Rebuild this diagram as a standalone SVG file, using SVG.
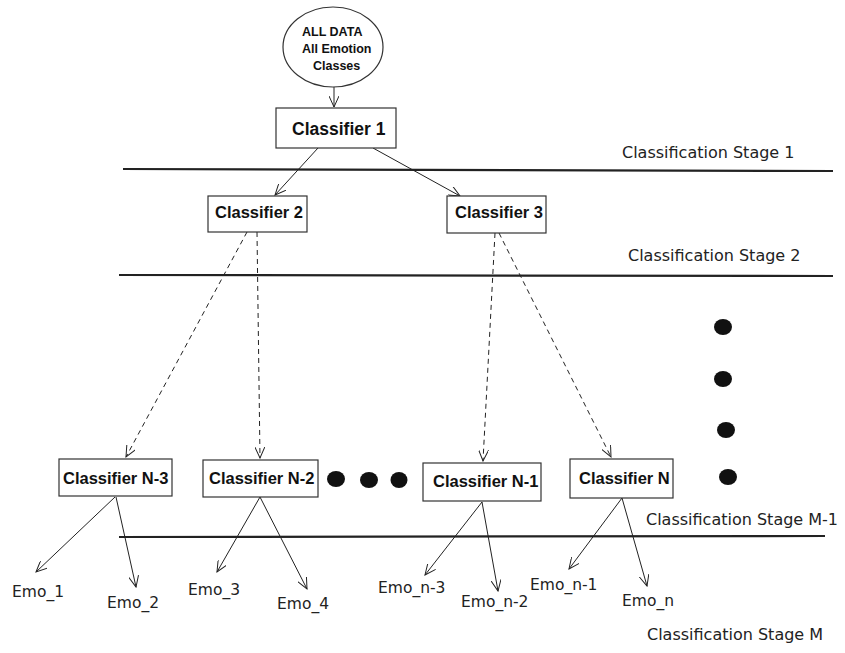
<svg xmlns="http://www.w3.org/2000/svg" width="845" height="653" viewBox="0 0 845 653">
<style>
.box{fill:#fff;stroke:#333;stroke-width:1.2}
.cl{font-family:"Liberation Sans",Arial,sans-serif;font-weight:bold;font-size:16.5px;fill:#111}
.st{font-family:"DejaVu Sans",sans-serif;font-size:16px;fill:#222}
.emo{font-family:"DejaVu Sans",sans-serif;font-size:15.5px;fill:#222}
.sep{stroke:#222;stroke-width:2.2}
.ar{stroke:#222;stroke-width:1;fill:none;marker-end:url(#ah)}
.da{stroke:#222;stroke-width:1;fill:none;stroke-dasharray:5,4;marker-end:url(#ah)}
.dot{fill:#111}
</style>
<defs>
<marker id="ah" viewBox="0 0 12 10" refX="11" refY="5" markerWidth="12" markerHeight="10" markerUnits="userSpaceOnUse" orient="auto">
<path d="M0,0 L11,5 L0,10" fill="none" stroke="#222" stroke-width="1"/>
</marker>
</defs>
<rect width="845" height="653" fill="#fff"/>
<g id="separators">
<line class="sep" x1="123" y1="169" x2="833" y2="171"/>
<line class="sep" x1="119" y1="275" x2="833" y2="276"/>
<line class="sep" x1="119" y1="537" x2="825" y2="536"/>
</g>
<g id="stage-labels">
<text class="st" x="622" y="158">Classification Stage 1</text>
<text class="st" x="628" y="261">Classification Stage 2</text>
<text class="st" x="646" y="525">Classification Stage M-1</text>
<text class="st" x="647" y="640">Classification Stage M</text>
</g>
<g id="connectors">
<line class="ar" x1="334" y1="87" x2="334" y2="107"/>
<line class="ar" x1="318" y1="148" x2="275" y2="195"/>
<line class="ar" x1="373" y1="148" x2="460" y2="196"/>
<line class="da" x1="247" y1="232" x2="126" y2="457"/>
<line class="da" x1="257" y1="232" x2="260" y2="458"/>
<line class="da" x1="495" y1="233" x2="483" y2="461"/>
<line class="da" x1="499" y1="233" x2="611" y2="457"/>
<line class="ar" x1="115" y1="497" x2="36" y2="572"/>
<line class="ar" x1="116" y1="497" x2="136" y2="587"/>
<line class="ar" x1="260" y1="497" x2="217" y2="572"/>
<line class="ar" x1="260" y1="497" x2="307" y2="589"/>
<line class="ar" x1="482" y1="502" x2="425" y2="575"/>
<line class="ar" x1="482" y1="502" x2="498" y2="591"/>
<line class="ar" x1="622" y1="498" x2="569" y2="569"/>
<line class="ar" x1="622" y1="498" x2="647" y2="586"/>
</g>
<g id="all-data">
<ellipse cx="333" cy="47" rx="50" ry="40" fill="#fff" stroke="#333" stroke-width="1.2"/>
<text font-family="Liberation Sans,Arial,sans-serif" font-weight="bold" font-size="12.5" fill="#111" x="302" y="36">ALL DATA</text>
<text font-family="Liberation Sans,Arial,sans-serif" font-weight="bold" font-size="12.5" fill="#111" x="302" y="53">All Emotion</text>
<text font-family="Liberation Sans,Arial,sans-serif" font-weight="bold" font-size="12.5" fill="#111" x="313" y="70">Classes</text>
</g>
<g id="classifier-1">
<rect class="box" x="276" y="108" width="120" height="40"/>
<text class="cl" x="292" y="135" style="font-size:17.5px">Classifier 1</text>
</g>
<g id="classifier-2">
<rect class="box" x="208" y="196" width="99" height="36"/>
<text class="cl" x="215" y="218">Classifier 2</text>
</g>
<g id="classifier-3">
<rect class="box" x="447" y="196" width="99" height="37"/>
<text class="cl" x="455" y="218">Classifier 3</text>
</g>
<g id="classifier-n-3">
<rect class="box" x="59" y="459" width="113" height="37"/>
<text class="cl" x="63" y="484">Classifier N-3</text>
</g>
<g id="classifier-n-2">
<rect class="box" x="203" y="460" width="115" height="37"/>
<text class="cl" x="209" y="484">Classifier N-2</text>
</g>
<g id="classifier-n-1">
<rect class="box" x="423" y="463" width="118" height="38"/>
<text class="cl" x="433" y="487">Classifier N-1</text>
</g>
<g id="classifier-n">
<rect class="box" x="570" y="459" width="103" height="39"/>
<text class="cl" x="579" y="484">Classifier N</text>
</g>
<g id="dots">
<ellipse class="dot" cx="336" cy="479" rx="9" ry="8"/>
<ellipse class="dot" cx="369" cy="480" rx="9" ry="8"/>
<ellipse class="dot" cx="399" cy="480" rx="8.5" ry="8"/>
<ellipse class="dot" cx="723" cy="327" rx="9" ry="8"/>
<ellipse class="dot" cx="723" cy="379" rx="9" ry="8"/>
<ellipse class="dot" cx="726" cy="430" rx="9" ry="8"/>
<ellipse class="dot" cx="728" cy="477" rx="9" ry="8"/>
</g>
<g id="emotions">
<text class="emo" x="12" y="597">Emo_1</text>
<text class="emo" x="107" y="608">Emo_2</text>
<text class="emo" x="188" y="595">Emo_3</text>
<text class="emo" x="277" y="609">Emo_4</text>
<text class="emo" x="378" y="593">Emo_n-3</text>
<text class="emo" x="461" y="607">Emo_n-2</text>
<text class="emo" x="530" y="590">Emo_n-1</text>
<text class="emo" x="622" y="606">Emo_n</text>
</g>
</svg>
